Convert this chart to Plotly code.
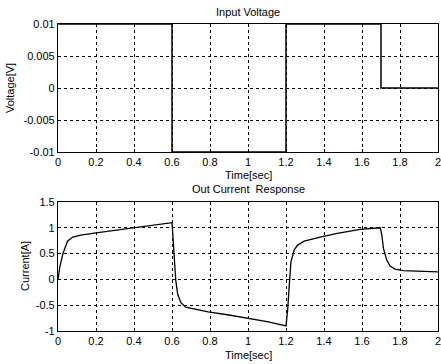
import plotly.graph_objects as go
from plotly.subplots import make_subplots

# Input voltage (step levels)
t_volt = [0.0, 0.6, 1.2, 1.7, 2.0]
volt = [0.01, -0.01, 0.01, 0.0, 0.0]

# Output current response
t_cur = [0.0, 0.01, 0.026, 0.05, 0.078, 0.12, 0.2, 0.3, 0.4, 0.5, 0.586, 0.6,
         0.603, 0.612, 0.62, 0.63, 0.647, 0.672, 0.724, 0.79, 0.9, 0.98, 1.1, 1.2,
         1.209, 1.217, 1.226, 1.243, 1.26, 1.296, 1.38, 1.47, 1.59, 1.696,
         1.704, 1.713, 1.73, 1.748, 1.774, 1.817, 1.9, 2.0]
cur = [0.0, 0.25, 0.5, 0.74, 0.82, 0.86, 0.9, 0.95, 1.0, 1.04, 1.08, 1.1,
       0.94, 0.35, -0.03, -0.29, -0.45, -0.54, -0.58, -0.63, -0.69, -0.74, -0.82, -0.9,
       -0.58, -0.12, 0.34, 0.57, 0.66, 0.74, 0.82, 0.89, 0.97, 1.0,
       0.87, 0.6, 0.375, 0.26, 0.2, 0.17, 0.16, 0.145]

x_ticks = [0, 0.2, 0.4, 0.6, 0.8, 1.0, 1.2, 1.4, 1.6, 1.8, 2.0]
x_ticklabels = ["0", "0.2", "0.4", "0.6", "0.8", "1", "1.2", "1.4", "1.6", "1.8", "2"]
v_ticks = [-0.01, -0.005, 0, 0.005, 0.01]
v_ticklabels = ["-0.01", "-0.005", "0", "0.005", "0.01"]
i_ticks = [-1, -0.5, 0, 0.5, 1, 1.5]
i_ticklabels = ["-1", "-0.5", "0", "0.5", "1", "1.5"]

W, H = 441, 364
ml, mr, mt, mb = 58, 3, 24, 33
ph = H - mt - mb

def py(p):
    return (H - mb - p) / ph

fig = make_subplots(rows=2, cols=1, vertical_spacing=0.0)
fig.add_trace(go.Scatter(x=t_volt, y=volt, mode="lines", line_shape="hv",
                         line=dict(color="black", width=1.5), showlegend=False), row=1, col=1)
fig.add_trace(go.Scatter(x=t_cur, y=cur, mode="lines",
                         line=dict(color="black", width=1.3), showlegend=False), row=2, col=1)

font = dict(family="Liberation Sans, Arial, sans-serif", size=11, color="black")
axcommon = dict(showline=True, linecolor="black", linewidth=1.2, mirror=True,
                showgrid=True, gridcolor="black", gridwidth=1.2, griddash="3px,3px",
                zeroline=False, ticks="inside", ticklen=3, tickcolor="black",
                tickfont=font, automargin=False, ticklabeloverflow="allow")

fig.update_layout(
    width=W, height=H, margin=dict(l=ml, r=mr, t=mt, b=mb),
    paper_bgcolor="white", plot_bgcolor="white", font=font,
    xaxis=dict(domain=[0, 1], range=[0, 2], tickvals=x_ticks, ticktext=x_ticklabels, **axcommon),
    yaxis=dict(domain=[py(152), 1], range=[-0.01, 0.01], tickvals=v_ticks,
               ticktext=v_ticklabels, **axcommon),
    xaxis2=dict(domain=[0, 1], range=[0, 2], tickvals=x_ticks, ticktext=x_ticklabels, **axcommon),
    yaxis2=dict(domain=[0, py(202)], range=[-1, 1.5], tickvals=i_ticks,
                ticktext=i_ticklabels, **axcommon),
)

ann = [
    ("Input Voltage", 0.5, py(12)),
    ("Time[sec]", 0.5, py(175)),
    ("Out Current  Response", 0.5, py(189)),
    ("Time[sec]", 0.5, py(355)),
]
for text, x, y in ann:
    fig.add_annotation(text=text, x=x, y=y, xref="paper", yref="paper",
                       showarrow=False, font=dict(family=font["family"], size=11, color="black"),
                       xanchor="center", yanchor="middle")

fig.add_annotation(text="Voltage[V]", x=(10 - ml) / (W - ml - mr), y=py(88),
                   xref="paper", yref="paper", showarrow=False, textangle=-90,
                   font=dict(family=font["family"], size=11, color="black"),
                   xanchor="center", yanchor="middle")
fig.add_annotation(text="Current[A]", x=(25 - ml) / (W - ml - mr), y=py(266),
                   xref="paper", yref="paper", showarrow=False, textangle=-90,
                   font=dict(family=font["family"], size=11, color="black"),
                   xanchor="center", yanchor="middle")

fig.write_html("out.html", config={"displayModeBar": False},
               post_script="document.body.style.margin='0';")
